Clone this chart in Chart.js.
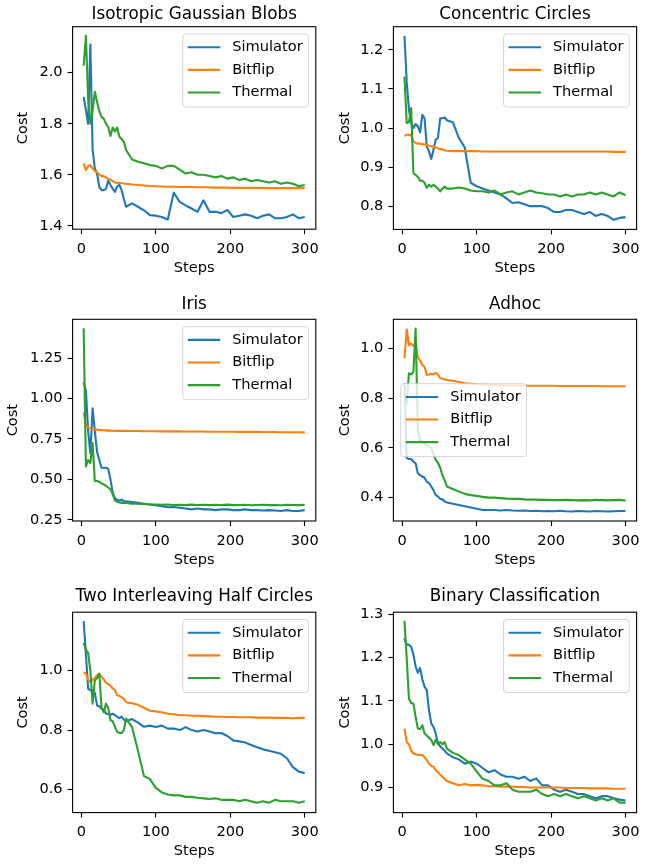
<!DOCTYPE html>
<html>
<head>
<meta charset="utf-8">
<script src="https://cdn.jsdelivr.net/npm/chart.js"></script>
<style>
  html, body { margin: 0; padding: 0; background: #fff; }
  #figure { position: relative; width: 663px; height: 865px; }
  #figure canvas { position: absolute; left: 0; top: 0; }
</style>
</head>
<body>
<div id="figure"></div>
<script>
// shared x values and labels
const STEPS = [3, 6, 9, 12, 15, 18, 21, 24, 27, 30, 33, 36, 39, 42, 45, 48, 51, 54, 57, 60,
  68, 76, 84, 92, 100, 108, 116, 124, 132, 140, 148, 156, 164, 172, 180, 188, 196, 204, 212, 220,
  228, 236, 244, 252, 260, 268, 276, 284, 292, 300];
const X_TICKS = [0, 100, 200, 300];
const SERIES_NAMES = ['Simulator', 'Bitflip', 'Thermal'];

// Isotropic Gaussian Blobs
const blobsTicks = [1.4, 1.6, 1.8, 2.0];
const blobsSimulator = [1.905, 1.854, 1.80, 2.11, 1.70, 1.625, 1.605, 1.553, 1.54, 1.54, 1.545, 1.578, 1.56, 1.546, 1.533, 1.555, 1.56, 1.54, 1.505, 1.475,
  1.488, 1.475, 1.461, 1.442, 1.44, 1.435, 1.425, 1.53, 1.494, 1.48, 1.468, 1.455, 1.50, 1.455, 1.455, 1.45, 1.462, 1.435, 1.44, 1.445,
  1.44, 1.43, 1.44, 1.445, 1.43, 1.43, 1.435, 1.445, 1.43, 1.435];
const blobsBitflip = [1.644, 1.618, 1.635, 1.638, 1.625, 1.615, 1.61, 1.60, 1.595, 1.595, 1.59, 1.585, 1.58, 1.575, 1.57, 1.568, 1.568, 1.567, 1.566, 1.565,
  1.562, 1.56, 1.558, 1.556, 1.555, 1.554, 1.553, 1.553, 1.552, 1.552, 1.552, 1.551, 1.551, 1.551, 1.55, 1.55, 1.55, 1.549, 1.549, 1.549,
  1.549, 1.549, 1.549, 1.548, 1.548, 1.548, 1.548, 1.548, 1.548, 1.549];
const blobsThermal = [2.027, 2.144, 1.90, 1.80, 1.85, 1.925, 1.886, 1.85, 1.827, 1.82, 1.80, 1.788, 1.752, 1.785, 1.77, 1.785, 1.749, 1.74, 1.729, 1.697,
  1.66, 1.651, 1.645, 1.638, 1.635, 1.625, 1.635, 1.635, 1.62, 1.605, 1.61, 1.60, 1.60, 1.595, 1.59, 1.595, 1.585, 1.59, 1.58, 1.585,
  1.575, 1.58, 1.575, 1.57, 1.575, 1.565, 1.57, 1.565, 1.555, 1.56];

// Concentric Circles
const circlesTicks = [0.8, 0.9, 1.0, 1.1, 1.2];
const circlesSimulator = [1.236, 1.119, 1.047, 1.013, 1.0, 1.01, 1.005, 0.989, 1.034, 1.025, 0.953, 0.94, 0.921, 0.945, 0.97, 0.975, 1.025, 1.025, 1.027, 1.02,
  1.015, 0.975, 0.95, 0.86, 0.851, 0.845, 0.84, 0.835, 0.83, 0.82, 0.808, 0.81, 0.805, 0.80, 0.80, 0.80, 0.795, 0.785, 0.785, 0.79,
  0.79, 0.785, 0.78, 0.785, 0.775, 0.78, 0.775, 0.765, 0.77, 0.772];
const circlesBitflip = [0.979, 0.983, 0.983, 0.982, 0.966, 0.962, 0.96, 0.96, 0.959, 0.958, 0.957, 0.955, 0.953, 0.952, 0.95, 0.948, 0.946, 0.945, 0.943, 0.942,
  0.941, 0.941, 0.941, 0.941, 0.941, 0.94, 0.94, 0.94, 0.94, 0.94, 0.94, 0.94, 0.94, 0.94, 0.94, 0.94, 0.94, 0.94, 0.94, 0.94,
  0.94, 0.94, 0.94, 0.94, 0.94, 0.94, 0.94, 0.939, 0.939, 0.939];
const circlesThermal = [1.132, 1.013, 1.015, 1.051, 0.885, 0.88, 0.875, 0.865, 0.865, 0.86, 0.847, 0.855, 0.85, 0.855, 0.85, 0.845, 0.838, 0.845, 0.85, 0.845,
  0.845, 0.848, 0.845, 0.84, 0.838, 0.838, 0.835, 0.84, 0.83, 0.835, 0.838, 0.83, 0.835, 0.84, 0.835, 0.833, 0.83, 0.83, 0.825, 0.83,
  0.825, 0.83, 0.83, 0.835, 0.83, 0.835, 0.83, 0.825, 0.835, 0.828];

// Iris
const irisTicks = [0.25, 0.5, 0.75, 1.0, 1.25];
const irisSimulator = [1.10, 1.05, 0.80, 0.66, 0.94, 0.80, 0.67, 0.62, 0.572, 0.572, 0.572, 0.565, 0.50, 0.42, 0.385, 0.374, 0.37, 0.375, 0.365, 0.365,
  0.36, 0.355, 0.35, 0.345, 0.34, 0.335, 0.328, 0.33, 0.325, 0.32, 0.315, 0.32, 0.315, 0.315, 0.31, 0.315, 0.315, 0.31, 0.31, 0.315,
  0.31, 0.31, 0.308, 0.31, 0.308, 0.305, 0.31, 0.305, 0.305, 0.31];
const irisBitflip = [0.915, 0.835, 0.82, 0.815, 0.812, 0.81, 0.808, 0.806, 0.805, 0.804, 0.803, 0.802, 0.802, 0.801, 0.801, 0.80, 0.80, 0.80, 0.80, 0.80,
  0.799, 0.799, 0.798, 0.798, 0.798, 0.797, 0.797, 0.797, 0.797, 0.796, 0.796, 0.796, 0.796, 0.795, 0.795, 0.795, 0.795, 0.795, 0.794, 0.794,
  0.794, 0.794, 0.793, 0.793, 0.793, 0.792, 0.792, 0.792, 0.792, 0.791];
const irisThermal = [1.434, 0.58, 0.62, 0.60, 0.725, 0.49, 0.49, 0.485, 0.475, 0.47, 0.46, 0.45, 0.44, 0.41, 0.37, 0.362, 0.358, 0.355, 0.355, 0.355,
  0.35, 0.35, 0.348, 0.345, 0.345, 0.343, 0.345, 0.342, 0.343, 0.342, 0.344, 0.342, 0.343, 0.341, 0.343, 0.342, 0.344, 0.341, 0.342, 0.343,
  0.34, 0.342, 0.343, 0.341, 0.342, 0.34, 0.343, 0.342, 0.341, 0.343];

// Adhoc
const adhocTicks = [0.4, 0.6, 0.8, 1.0];
const adhocSimulator = [0.86, 0.56, 0.555, 0.555, 0.545, 0.538, 0.498, 0.49, 0.485, 0.48, 0.464, 0.458, 0.445, 0.43, 0.41, 0.405, 0.395, 0.393, 0.385, 0.38,
  0.375, 0.37, 0.365, 0.36, 0.355, 0.35, 0.35, 0.35, 0.348, 0.35, 0.348, 0.347, 0.348, 0.346, 0.347, 0.345, 0.346, 0.345, 0.347, 0.345,
  0.344, 0.346, 0.345, 0.344, 0.346, 0.345, 0.344, 0.345, 0.346, 0.346];
const adhocBitflip = [0.96, 1.076, 1.013, 1.02, 1.01, 1.02, 0.966, 0.95, 0.933, 0.925, 0.893, 0.895, 0.898, 0.895, 0.902, 0.895, 0.88, 0.878, 0.875, 0.873,
  0.87, 0.865, 0.86, 0.858, 0.856, 0.855, 0.853, 0.853, 0.852, 0.852, 0.851, 0.851, 0.851, 0.85, 0.85, 0.85, 0.85, 0.85, 0.849, 0.849,
  0.849, 0.849, 0.849, 0.849, 0.849, 0.848, 0.848, 0.848, 0.848, 0.848];
const adhocThermal = [0.76, 0.78, 0.90, 0.895, 0.905, 1.08, 0.672, 0.632, 0.625, 0.618, 0.61, 0.605, 0.60, 0.575, 0.552, 0.54, 0.52, 0.49, 0.47, 0.445,
  0.435, 0.425, 0.415, 0.41, 0.407, 0.403, 0.40, 0.40, 0.398, 0.396, 0.395, 0.395, 0.393, 0.392, 0.392, 0.391, 0.391, 0.39, 0.39, 0.391,
  0.39, 0.389, 0.39, 0.389, 0.391, 0.39, 0.389, 0.39, 0.391, 0.388];

// Two Interleaving Half Circles
const moonsTicks = [0.6, 0.8, 1.0];
const moonsSimulator = [1.167, 1.056, 0.939, 0.935, 0.93, 0.925, 0.883, 0.88, 0.872, 0.87, 0.855, 0.855, 0.85, 0.855, 0.85, 0.845, 0.84, 0.845, 0.835, 0.83,
  0.837, 0.825, 0.811, 0.815, 0.81, 0.815, 0.805, 0.805, 0.80, 0.81, 0.80, 0.795, 0.80, 0.795, 0.789, 0.79, 0.78, 0.765, 0.762, 0.758,
  0.75, 0.742, 0.735, 0.73, 0.725, 0.72, 0.705, 0.675, 0.66, 0.655];
const moonsBitflip = [0.994, 0.99, 0.97, 0.961, 0.97, 0.975, 0.985, 0.989, 0.98, 0.97, 0.96, 0.955, 0.95, 0.94, 0.935, 0.917, 0.915, 0.91, 0.905, 0.894,
  0.89, 0.885, 0.875, 0.865, 0.863, 0.86, 0.855, 0.853, 0.85, 0.85, 0.848, 0.848, 0.847, 0.846, 0.845, 0.845, 0.844, 0.844, 0.843, 0.843,
  0.843, 0.842, 0.842, 0.842, 0.841, 0.841, 0.841, 0.84, 0.841, 0.841];
const moonsThermal = [1.094, 1.07, 1.061, 1.0, 0.889, 0.967, 0.975, 0.99, 0.875, 0.86, 0.889, 0.875, 0.833, 0.83, 0.811, 0.794, 0.79, 0.79, 0.80, 0.839,
  0.81, 0.73, 0.645, 0.635, 0.605, 0.59, 0.583, 0.58, 0.58, 0.575, 0.575, 0.572, 0.57, 0.568, 0.57, 0.565, 0.565, 0.565, 0.56, 0.565,
  0.56, 0.555, 0.56, 0.555, 0.565, 0.56, 0.56, 0.56, 0.555, 0.56];

// Binary Classification
const binaryTicks = [0.9, 1.0, 1.1, 1.2, 1.3];
const binarySimulator = [1.245, 1.23, 1.23, 1.225, 1.207, 1.18, 1.165, 1.176, 1.15, 1.133, 1.125, 1.078, 1.048, 1.04, 1.025, 1.002, 0.995, 0.99, 0.985, 0.979,
  0.97, 0.965, 0.955, 0.96, 0.955, 0.945, 0.935, 0.94, 0.93, 0.925, 0.925, 0.92, 0.925, 0.915, 0.921, 0.905, 0.905, 0.895, 0.89, 0.895,
  0.89, 0.885, 0.885, 0.88, 0.875, 0.88, 0.88, 0.875, 0.872, 0.87];
const binaryBitflip = [1.036, 1.005, 1.0, 0.985, 0.979, 0.977, 0.975, 0.975, 0.975, 0.97, 0.963, 0.955, 0.95, 0.948, 0.94, 0.935, 0.93, 0.925, 0.92, 0.915,
  0.91, 0.905, 0.908, 0.905, 0.906, 0.905, 0.903, 0.903, 0.902, 0.902, 0.902, 0.901, 0.901, 0.9, 0.9, 0.9, 0.9, 0.9, 0.9, 0.899,
  0.899, 0.899, 0.899, 0.898, 0.898, 0.898, 0.898, 0.897, 0.897, 0.897];
const binaryThermal = [1.285, 1.20, 1.105, 1.095, 1.094, 1.063, 1.036, 1.035, 1.044, 1.025, 1.02, 1.015, 1.01, 0.998, 1.01, 1.0, 1.005, 1.0, 1.005, 0.99,
  0.98, 0.975, 0.965, 0.955, 0.937, 0.92, 0.915, 0.905, 0.905, 0.91, 0.895, 0.89, 0.89, 0.89, 0.895, 0.885, 0.88, 0.885, 0.88, 0.885,
  0.88, 0.875, 0.88, 0.875, 0.87, 0.875, 0.87, 0.875, 0.865, 0.865];

// figure layout (axes boxes in page pixels: left, top, right, bottom)
const W = 663, H = 865;
const FONT = 'DejaVu Sans';
const COLORS = ['#1f77b4', '#ff7f0e', '#2ca02c'];
const YW = 70, XH = 52;

const panels = [
  { title: 'Isotropic Gaussian Blobs', series: [blobsSimulator, blobsBitflip, blobsThermal], ticks: blobsTicks,
    yMin: 1.387, yMax: 2.180, dec: 1, box: [72.6, 26.7, 315.8, 229.2], titleGap: 11.9, costGap: 50.4, legend: 'upper right' },
  { title: 'Concentric Circles', series: [circlesSimulator, circlesBitflip, circlesThermal], ticks: circlesTicks,
    yMin: 0.7405, yMax: 1.2595, dec: 1, box: [393.4, 26.7, 636.6, 229.4], titleGap: 11.9, costGap: 49.3, legend: 'upper right' },
  { title: 'Iris', series: [irisSimulator, irisBitflip, irisThermal], ticks: irisTicks,
    yMin: 0.243, yMax: 1.49, dec: 2, box: [72.6, 319.3, 315.8, 521], titleGap: 14.5, costGap: 60.2, legend: 'upper right' },
  { title: 'Adhoc', series: [adhocSimulator, adhocBitflip, adhocThermal], ticks: adhocTicks,
    yMin: 0.306, yMax: 1.117, dec: 1, box: [393.4, 319.3, 636.6, 521], titleGap: 14.5, costGap: 49.3, legend: 'center left' },
  { title: 'Two Interleaving Half Circles', series: [moonsSimulator, moonsBitflip, moonsThermal], ticks: moonsTicks,
    yMin: 0.522, yMax: 1.197, dec: 1, box: [72.6, 612.2, 315.8, 812.6], titleGap: 15.1, costGap: 50.4, legend: 'upper right' },
  { title: 'Binary Classification', series: [binarySimulator, binaryBitflip, binaryThermal], ticks: binaryTicks,
    yMin: 0.842, yMax: 1.305, dec: 1, box: [393.4, 612.2, 636.6, 812.6], titleGap: 15.1, costGap: 49.3, legend: 'upper right' }
];

// full box around the axes, drawn over the lines like matplotlib spines
const framePlugin = {
  id: 'frame',
  afterDatasetsDraw(chart) {
    const { ctx, chartArea: a } = chart;
    ctx.save();
    ctx.strokeStyle = '#000';
    ctx.lineWidth = 1.1;
    ctx.strokeRect(a.left, a.top, a.right - a.left, a.bottom - a.top);
    ctx.restore();
  }
};

// matplotlib style legend inside the axes
const legendPlugin = {
  id: 'mplLegend',
  afterDraw(chart, args, opts) {
    const { ctx, chartArea: a } = chart;
    const sets = chart.data.datasets;
    ctx.save();
    ctx.font = '14.6px "' + FONT + '"';
    const textW = Math.max(...sets.map(d => ctx.measureText(d.label).width));
    const w = 49.5 + textW + 5.8, h = 73;
    let x, y;
    if (opts.position === 'center left') {
      x = a.left + 7.3;
      y = (a.top + a.bottom) / 2 - h / 2;
    } else {
      x = a.right - 7.3 - w;
      y = a.top + 7.3;
    }
    const r = 3;
    ctx.beginPath();
    ctx.moveTo(x + r, y);
    ctx.lineTo(x + w - r, y);
    ctx.arcTo(x + w, y, x + w, y + r, r);
    ctx.lineTo(x + w, y + h - r);
    ctx.arcTo(x + w, y + h, x + w - r, y + h, r);
    ctx.lineTo(x + r, y + h);
    ctx.arcTo(x, y + h, x, y + h - r, r);
    ctx.lineTo(x, y + r);
    ctx.arcTo(x, y, x + r, y, r);
    ctx.closePath();
    ctx.fillStyle = 'rgba(255,255,255,0.8)';
    ctx.fill();
    ctx.strokeStyle = 'rgba(204,204,204,0.8)';
    ctx.lineWidth = 1;
    ctx.stroke();
    sets.forEach((d, i) => {
      const ry = y + 13.3 + i * 22.6;
      ctx.beginPath();
      ctx.moveTo(x + 5, ry);
      ctx.lineTo(x + 37.5, ry);
      ctx.strokeStyle = d.borderColor;
      ctx.lineWidth = 2.1;
      ctx.stroke();
      ctx.fillStyle = '#000';
      ctx.textAlign = 'left';
      ctx.textBaseline = 'middle';
      ctx.fillText(d.label, x + 49.5, ry);
    });
    ctx.restore();
  }
};

const fig = document.getElementById('figure');
const tickFont = { family: FONT, size: 14.6 };

panels.forEach(p => {
  const canvas = document.createElement('canvas');
  canvas.width = W;
  canvas.height = H;
  canvas.style.width = W + 'px';
  canvas.style.height = H + 'px';
  fig.appendChild(canvas);

  const [l, t, r, b] = p.box;
  const titleH = p.titleGap + 11.08;

  new Chart(canvas, {
    type: 'line',
    data: {
      datasets: SERIES_NAMES.map((name, i) => ({
        label: name,
        data: STEPS.map((s, k) => ({ x: s, y: p.series[i][k] })),
        borderColor: COLORS[i],
        backgroundColor: COLORS[i],
        borderWidth: 2.1,
        borderJoinStyle: 'round',
        pointRadius: 0,
        tension: 0,
        fill: false,
        order: 3 - i
      }))
    },
    options: {
      responsive: false,
      animation: false,
      devicePixelRatio: 1,
      events: [],
      layout: { padding: { left: l - YW, top: t - titleH, right: W - r, bottom: H - b - XH } },
      plugins: {
        legend: { display: false },
        tooltip: { enabled: false },
        title: {
          display: true, text: p.title, fullSize: false, color: '#000',
          font: { family: FONT, size: 16.8, weight: 'normal' },
          padding: { top: 1, bottom: titleH - 21.16 }
        },
        mplLegend: { position: p.legend }
      },
      scales: {
        x: {
          type: 'linear', min: -11.85, max: 314.85, bounds: 'data',
          afterBuildTicks: ax => { ax.ticks = X_TICKS.map(v => ({ value: v })); },
          afterFit: ax => { ax.height = XH; },
          grid: { drawOnChartArea: false, drawTicks: true, tickLength: 5, color: '#000', tickWidth: 1.1 },
          border: { display: false },
          ticks: { color: '#000', font: tickFont, padding: 6, maxRotation: 0, autoSkip: false, callback: v => String(v) },
          title: { display: true, text: 'Steps', color: '#000', font: tickFont, padding: { top: 0, bottom: XH - 39 - 8.76 } }
        },
        y: {
          type: 'linear', min: p.yMin, max: p.yMax, bounds: 'data',
          afterBuildTicks: ax => { ax.ticks = p.ticks.map(v => ({ value: v })); },
          afterFit: ax => { ax.width = YW; },
          grid: { drawOnChartArea: false, drawTicks: true, tickLength: 5, color: '#000', tickWidth: 1.1 },
          border: { display: false },
          ticks: { color: '#000', font: tickFont, padding: 5, autoSkip: false, callback: v => v.toFixed(p.dec) },
          title: { display: true, text: 'Cost', color: '#000', font: tickFont, padding: { top: YW - p.costGap + 1 - 8.76, bottom: 0 } }
        }
      }
    },
    plugins: [framePlugin, legendPlugin]
  });
});
</script>
</body>
</html>
